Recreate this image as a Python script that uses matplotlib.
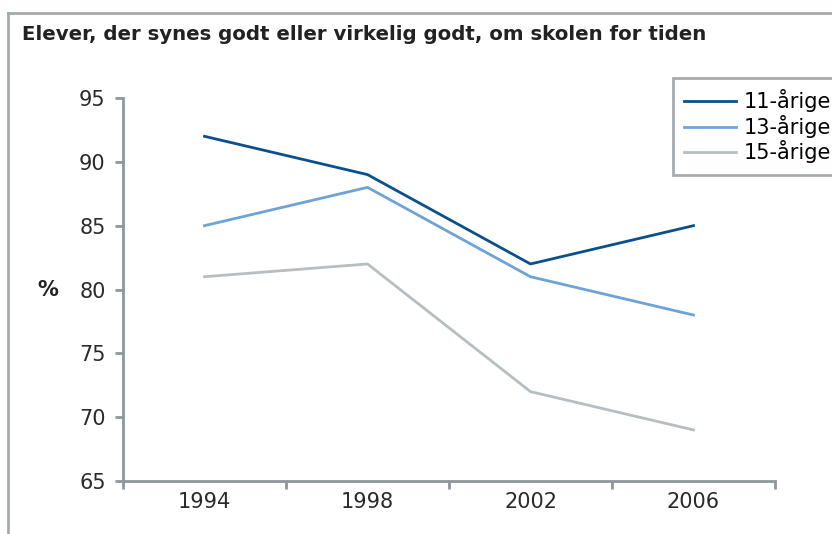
import numpy as np
import matplotlib.pyplot as plt
from matplotlib.lines import Line2D

# data
years = ['1994', '1998', '2002', '2006']
aar11 = [92, 89, 82, 85]
aar13 = [85, 88, 81, 78]
aar15 = [81, 82, 72, 69]
labels = ['11-årige', '13-årige', '15-årige']
colors = ['#0b4f8c', '#6ea3d7', '#b7bec1']
axis_col = '#8e979c'

plt.rcParams['font.family'] = ['Verdana', 'DejaVu Sans']

fig = plt.figure(figsize=(8.32, 5.34), dpi=100)
ax = fig.add_axes([123/832, 1 - 481/534, (775 - 123)/832, (481 - 98)/534])

x = np.arange(len(years))
for vals, lab, c in zip([aar11, aar13, aar15], labels, colors):
    ax.plot(x, vals, color=c, lw=2, label=lab)

ax.set_xlim(-0.5, len(years) - 0.5)
ax.set_ylim(65, 95)
ax.set_yticks(range(65, 96, 5))
ax.set_xticks(x)
ax.set_xticklabels(years)
ax.set_xticks(np.arange(-0.5, len(years), 1), minor=True)
ax.tick_params(axis='x', which='major', length=0, pad=8, labelsize=15, colors='#2a2a2a')
ax.tick_params(axis='x', which='minor', length=6, width=2, color=axis_col, direction='out')
ax.tick_params(axis='y', length=6, width=2, color=axis_col, pad=6.5, labelsize=15, labelcolor='#2a2a2a')

for s in ['top', 'right']:
    ax.spines[s].set_visible(False)
for s in ['left', 'bottom']:
    ax.spines[s].set_color(axis_col)
    ax.spines[s].set_linewidth(2)

ax.set_ylabel('%', rotation=0, fontsize=15, fontweight='bold', color='#222222',
              va='center', ha='center')
ax.yaxis.set_label_coords(-0.116, 0.498)

leg = ax.legend(loc='upper left', bbox_to_anchor=(673/832, 1 - 78/534),
                bbox_transform=fig.transFigure, fontsize=15, frameon=True,
                fancybox=False, handlelength=2.45, handletextpad=0.4,
                labelspacing=0.12, borderpad=0.55, borderaxespad=0)
leg.get_frame().set_edgecolor(axis_col)
leg.get_frame().set_linewidth(2)

fig.text(22/832, 1 - 35/534, 'Elever, der synes godt eller virkelig godt, om skolen for tiden',
         fontsize=14.2, fontweight='bold', color='#222222', va='center', ha='left')

# outer frame
fig.add_artist(Line2D([8/832, 8/832], [0, 1 - 13/534], color='#a3aaae', lw=2,
                      transform=fig.transFigure))
fig.add_artist(Line2D([8/832, 1], [1 - 13/534, 1 - 13/534], color='#a3aaae', lw=2,
                      transform=fig.transFigure))

fig.savefig('out.png', dpi=100)
